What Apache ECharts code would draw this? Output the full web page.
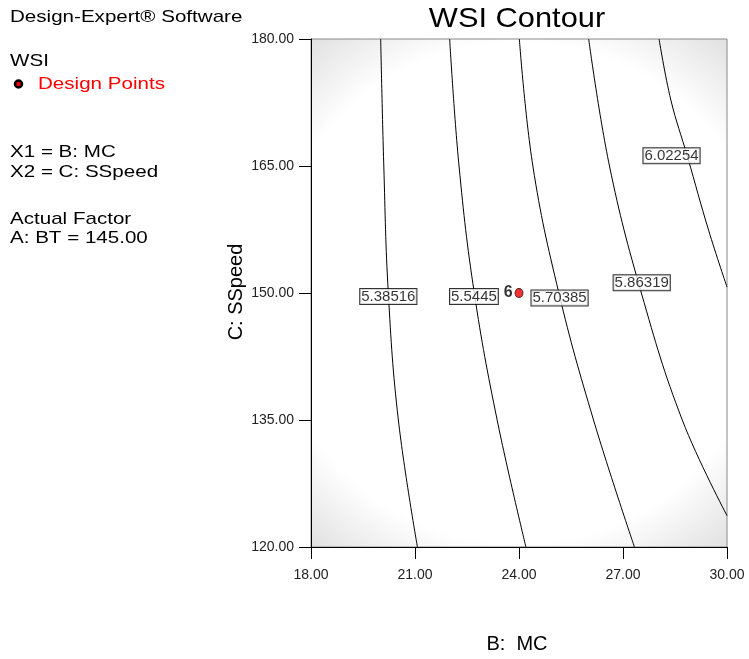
<!DOCTYPE html>
<html>
<head>
<meta charset="utf-8">
<script src="https://cdn.jsdelivr.net/npm/echarts@6/dist/echarts.min.js"></script>
<style>
  html, body { margin: 0; padding: 0; background: #fff; }
  #main { width: 749px; height: 659px; }
</style>
</head>
<body>
<div id="main"></div>
<script>
// contour levels and traced lines, [MC, SSpeed]
const levels = ['5.38516', '5.5445', '5.70385', '5.86319', '6.02254']
const line1 = [[20.01, 180], [20.10, 165], [20.23, 150], [20.52, 135], [21.07, 120]]
const line2 = [[22.00, 180], [22.27, 165], [22.71, 150], [23.37, 135], [24.20, 120]]
const line3 = [[24.01, 180], [24.40, 165], [25.15, 150], [26.15, 135], [27.33, 120]]
const line4 = [[26.01, 180], [26.61, 165], [27.53, 150], [28.71, 135], [30, 123.7]]
const line5 = [[28.04, 180], [28.38, 172.8], [28.86, 166.1], [29.47, 157.4], [30, 150.7]]
// where each level label sits
const labelPos = [[20.23, 149.6], [22.70, 149.6], [25.17, 149.4], [27.54, 151.2], [28.40, 166.2]]
// design point
const designPoints = [[24, 150]]
const designNames = ['6']

const font = 'Liberation Sans, Arial, sans-serif'
let myChart = echarts.init(document.getElementById('main'))
let lines = [line1, line2, line3, line4, line5]

function sideText (text, y, color) {
  return {
    type: 'text', x: 10, y: y, scaleX: 1.21,
    style: { text: text, font: '17px ' + font, fill: color || '#000', textVerticalAlign: 'middle' }
  }
}

let option = {
  animation: false,
  grid: {
    left: 311, right: 22, top: 39, bottom: 112,
    show: true,
    borderColor: '#888',
    borderWidth: 1,
    backgroundColor: {
      type: 'radial', x: 0.5, y: 0.5, r: 0.79,
      colorStops: [
        { offset: 0, color: '#ffffff' },
        { offset: 0.76, color: '#ffffff' },
        { offset: 1, color: '#e0e0e0' }
      ]
    }
  },
  xAxis: {
    type: 'value', min: 18, max: 30, interval: 3,
    axisLine: { show: true, lineStyle: { color: '#000' } },
    axisTick: { show: true, length: 12, lineStyle: { color: '#000' } },
    splitLine: { show: false },
    axisLabel: { margin: 21, fontSize: 14, color: '#222', fontFamily: font, formatter: v => v.toFixed(2) }
  },
  yAxis: {
    type: 'value', min: 120, max: 180, interval: 15,
    axisLine: { show: true, lineStyle: { color: '#000' } },
    axisTick: { show: true, length: 12, lineStyle: { color: '#000' } },
    splitLine: { show: false },
    axisLabel: { margin: 17, fontSize: 14, color: '#222', fontFamily: font, formatter: v => v.toFixed(2) }
  },
  series: lines.map(function (item, i) {
    return {
      name: levels[i],
      type: 'line',
      smooth: 0.4,
      symbol: 'none',
      silent: true,
      lineStyle: { color: '#000', width: 1 },
      data: item
    }
  }).concat([
    {
      type: 'scatter',
      symbol: 'rect',
      symbolSize: 0,
      silent: true,
      z: 5,
      data: labelPos.map(function (p, i) { return { value: p, name: levels[i] } }),
      label: {
        show: true,
        position: 'inside',
        formatter: p => p.name,
        fontSize: 15,
        fontFamily: font,
        color: '#000',
        backgroundColor: '#fff',
        borderColor: '#000',
        borderWidth: 1,
        padding: [1, 1, 0, 1],
        lineHeight: 14
      }
    },
    {
      type: 'scatter',
      symbolSize: [8, 9],
      silent: true,
      z: 6,
      itemStyle: { color: '#ee0000', borderColor: '#330000', borderWidth: 1 },
      data: designPoints.map(function (p, i) { return { value: p, name: designNames[i] } }),
      label: {
        show: true,
        position: 'left',
        distance: 2,
        formatter: p => p.name,
        fontSize: 16,
        fontWeight: 'bold',
        fontFamily: font,
        color: '#000'
      }
    }
  ]),
  graphic: [
    {
      type: 'text', x: 517, y: 19, scaleX: 1.1,
      style: { text: 'WSI Contour', font: '28px ' + font, fill: '#000', textAlign: 'center', textVerticalAlign: 'middle' }
    },
    {
      type: 'text', x: 517, y: 644,
      style: { text: 'B:  MC', font: '20px ' + font, fill: '#000', textAlign: 'center', textVerticalAlign: 'middle' }
    },
    {
      type: 'text', x: 236, y: 292, rotation: Math.PI / 2,
      style: { text: 'C: SSpeed', font: '20px ' + font, fill: '#000', textAlign: 'center', textVerticalAlign: 'middle' }
    },
    sideText('Design-Expert® Software', 17),
    sideText('WSI', 61),
    {
      type: 'circle', shape: { cx: 18.5, cy: 84, r: 3.5 },
      style: { fill: '#ee0000', stroke: '#000', lineWidth: 2.5 }
    },
    Object.assign(sideText('Design Points', 84, '#ff0000'), { x: 38 }),
    sideText('X1 = B: MC', 152),
    sideText('X2 = C: SSpeed', 172),
    sideText('Actual Factor', 219),
    sideText('A: BT = 145.00', 238)
  ]
}
myChart.setOption(option, true)
</script>
</body>
</html>
